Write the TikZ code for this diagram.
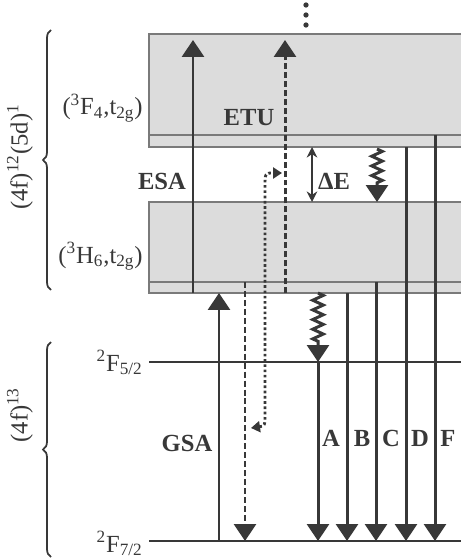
\documentclass[tikz,border=0pt]{standalone}
\usepackage{fontspec}
\setmainfont{Liberation Serif}
\usetikzlibrary{arrows.meta,calc,positioning,decorations.pathmorphing,decorations.pathreplacing}
\definecolor{levelink}{HTML}{383838}
\definecolor{bandfill}{HTML}{DCDCDC}
\definecolor{bandline}{HTML}{7A7A7A}
\tikzset{
  bandbox/.style={draw=bandline, fill=bandfill, line width=0.9pt},
  bandsplit/.style={draw=bandline, line width=0.9pt},
  levelline/.style={draw=levelink, line width=1.2pt},
  trans/.style={-{Triangle[length=0.34cm,width=0.44cm]}, line width=1.7pt, draw=levelink},
  dashtrans/.style={trans, dash pattern=on 3.4pt off 1.7pt},
  wavytrans/.style={trans, decorate, decoration={zigzag, segment length=5.5pt, amplitude=3pt, post length=10pt}},
  gaparrow/.style={{Stealth[length=6pt,width=6pt]}-{Stealth[length=6pt,width=6pt]}, line width=0.9pt, draw=levelink},
  hooktrans/.style={{Triangle[length=0.18cm,width=0.22cm]}-{Triangle[length=0.18cm,width=0.22cm]}, line width=1.6pt, draw=levelink, dash pattern=on 1.5pt off 1.5pt},
  tag/.style={text=levelink, font=\fontsize{14}{16}\selectfont\bfseries, inner sep=1pt},
  statelbl/.style={text=levelink, font=\fontsize{14}{16}\selectfont, inner sep=0pt, anchor=base east},
  configlbl/.style={text=levelink, font=\fontsize{14}{16}\selectfont, rotate=90, inner sep=0pt},
  brace/.style={decorate, decoration={brace, amplitude=0.16cm}, draw=levelink, line width=1pt}
}

\begin{document}
\begin{tikzpicture}[x=0.02cm, y=-0.02cm]
  \useasboundingbox (0,0) rectangle (461,560);
  % level heights
  \coordinate (tp) at (149,40);
  \coordinate (f4t) at (149,34);
  \coordinate (f4i) at (149,135);
  \coordinate (f4b) at (149,147);
  \coordinate (h6t) at (149,202);
  \coordinate (h6i) at (149,282);
  \coordinate (h6b) at (149,293);
  \coordinate (f52) at (149,362);
  \coordinate (f72) at (149,541);
  % transition columns
  \coordinate (esa) at (193,0);
  \coordinate (gsa) at (219,0);
  \coordinate (back) at (245,0);
  \coordinate (etu) at (285,0);
  \coordinate (gap) at (312,0);
  \coordinate (ta) at (318,0);
  \coordinate (tb) at (347,0);
  \coordinate (tc) at (376,0);
  \coordinate (td) at (406,0);
  \coordinate (tf) at (435,0);

  % bands
  \fill[bandfill] (f4t) rectangle (461,147);
  \draw[bandbox, fill=none] (461,34) -- (f4t) -- (f4b) -- (461,147);
  \draw[bandsplit] (f4i) -- (461,135);
  \fill[bandfill] (h6t) rectangle (461,293);
  \draw[bandbox, fill=none] (461,202) -- (h6t) -- (h6b) -- (461,293);
  \draw[bandsplit] (h6i) -- (461,282);
  \draw[levelline] (f52) -- (461,362);
  \draw[levelline] (f72) -- (461,541);

  \foreach \dy in {5,15,25}
    \fill[levelink] (306,\dy) circle[radius=1.5pt];

  % transitions
  \draw[trans] (gsa |- f72) -- (gsa |- h6b);
  \draw[trans] (esa |- h6b) -- (esa |- tp);
  \draw[dashtrans] (etu |- h6b) -- (etu |- tp);
  \draw[dashtrans] (back |- h6i) -- (back |- f72);
  \draw[hooktrans] (251,428) .. controls (265,426) .. (265,412) -- (265,187) .. controls (265,173) .. (282,173);
  \draw[gaparrow] (gap |- f4b) -- (gap |- h6t);
  \draw[wavytrans] (377,149) -- (377,202);
  \draw[wavytrans] (ta |- h6b) -- (ta |- f52);
  \draw[trans] (ta |- f52) -- (ta |- f72);
  \draw[trans] (tb |- h6b) -- (tb |- f72);
  \draw[trans] (tc |- h6i) -- (tc |- f72);
  \draw[trans] (td |- f4b) -- (td |- f72);
  \draw[trans] (tf |- f4i) -- (tf |- f72);

  % labels
  \node[tag] (esalbl) at (162,181) {ESA};
  \node[tag] (etulbl) at (249,118) {ETU};
  \node[tag] (gsalbl) at (187,443) {GSA};
  \node[tag] (delbl) at (334,181) {ΔE};
  \node[tag] (albl) at (331,438) {A};
  \node[tag] (blbl) at (362,438) {B};
  \node[tag] (clbl) at (391,438) {C};
  \node[tag] (dlbl) at (420,438) {D};
  \node[tag] (flbl) at (448,438) {F};

  \node[statelbl] (f4lbl) at (143,115) {(\textsuperscript{3}F\textsubscript{4},t\textsubscript{2g})};
  \node[statelbl] (h6lbl) at (143,263) {(\textsuperscript{3}H\textsubscript{6},t\textsubscript{2g})};
  \node[statelbl] (f52lbl) at (143,371) {\textsuperscript{2}F\textsubscript{5/2}};
  \node[statelbl] (f72lbl) at (143,552) {\textsuperscript{2}F\textsubscript{7/2}};

  \draw[brace] (51,290) -- (51,30);
  \draw[brace] (51,557) -- (51,342);
  \node[configlbl] (dconf) at (20,157) {(4f)\textsuperscript{12}(5d)\textsuperscript{1}};
  \node[configlbl] (fconf) at (20,415) {(4f)\textsuperscript{13}};
\end{tikzpicture}
\end{document}
